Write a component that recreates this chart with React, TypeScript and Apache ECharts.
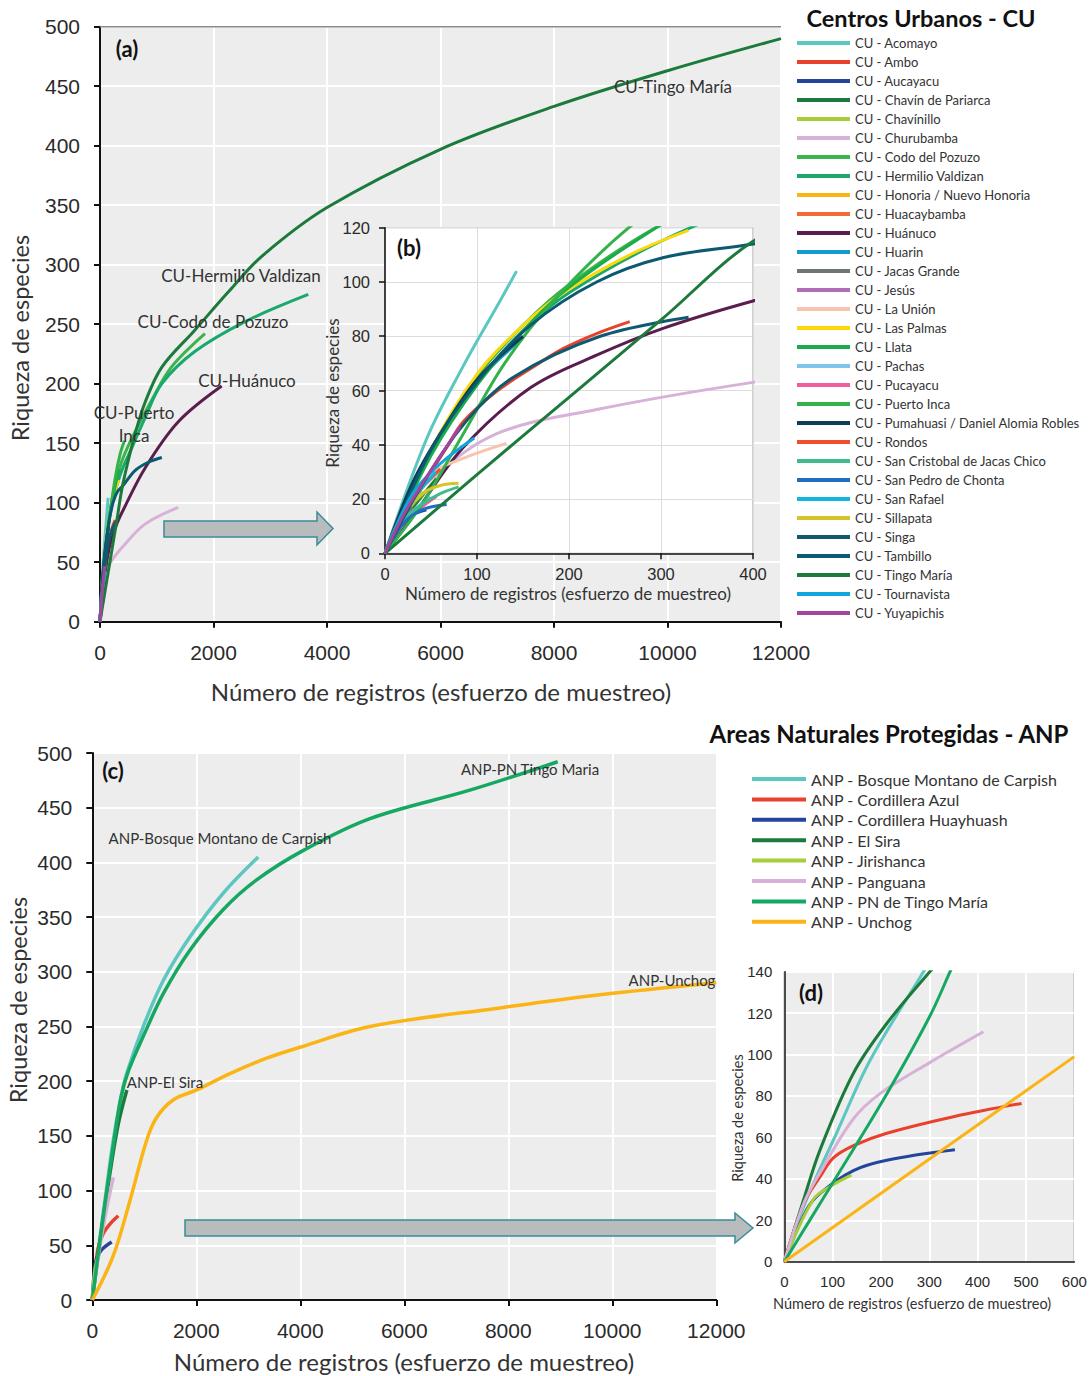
import React, { useEffect, useRef } from "react";
import * as echarts from "echarts";

// ---------- Centros Urbanos (CU) accumulation curves: [registros, especies] ----------
const cuAcomayo = [[0, 0], [45, 42], [85, 69], [125, 93], [143, 104]];
const cuAmbo = [[0, 0], [30, 19], [67, 39], [85, 48.5], [121, 59.6], [158, 68], [194, 75.5], [230, 81], [266, 85.4]];
const cuAucayacu = [[0, 0], [15, 9], [30, 14], [45, 16]];
const cuChavin = [[0, 0], [20, 12], [40, 21], [56, 27.6]];
const cuChavinillo = [[0, 0], [15, 10], [30, 18], [45, 23]];
const cuChurubamba = [[0, 0], [20, 15], [49, 27], [121, 44], [230, 53], [400, 63], [793, 82], [1380, 96]];
const cuCodo = [[0, 0], [50, 38], [100, 65], [150, 84], [200, 99], [294, 120], [400, 137], [620, 160], [910, 186], [1260, 214], [1850, 242]];
const cuHermilio = [[0, 0], [50, 37], [100, 63], [150, 82], [200, 96], [300, 115], [400, 129], [560, 146], [800, 172], [1090, 200], [1670, 227], [2550, 252], [3670, 275]];
const cuHonoria = [[0, 0], [15, 11], [30, 19], [40, 23]];
const cuHuacaybamba = [[0, 0], [20, 15], [40, 25], [53, 29.5]];
const cuHuanuco = [[0, 0], [31, 14], [85, 39], [158, 61], [230, 73], [303, 83], [400, 93], [793, 129], [1380, 168], [2144, 198]];
const cuHuarin = [[0, 0], [25, 20], [49, 36], [100, 63], [149, 79]];
const cuJacas = [[0, 0], [10, 7], [20, 13], [30, 17]];
const cuJesus = [[0, 0], [15, 11], [30, 20], [45, 27]];
const cuLaUnion = [[0, 0], [20, 15], [49, 29], [85, 35], [132, 40.5]];
const cuLasPalmas = [[0, 0], [50, 38], [100, 66], [150, 84], [194, 96], [266, 110], [330, 119]];
const cuLlata = [[0, 0], [50, 36], [100, 62], [150, 82], [200, 98], [290, 119], [340, 128]];
const cuPachas = [[0, 0], [20, 12], [35, 17], [49, 21]];
const cuPucayacu = [[0, 0], [20, 11], [40, 17], [56, 21]];
const cuPuertoInca = [[0, 0], [40, 18], [85, 44], [130, 70], [183, 93], [265, 120], [350, 140], [430, 152]];
const cuPumahuasi = [[0, 0], [30, 26], [60, 44], [100, 64], [150, 80]];
const cuRondos = [[0, 0], [20, 14], [40, 24], [60, 31]];
const cuSanCristobal = [[0, 0], [20, 12], [40, 18], [60, 22], [80, 24.5]];
const cuSanPedro = [[0, 0], [20, 11], [40, 16], [67, 18]];
const cuSanRafael = [[0, 0], [20, 14], [40, 24], [55, 30]];
const cuSillapata = [[0, 0], [20, 15], [40, 22], [60, 25], [80, 25.8]];
const cuSinga = [[0, 0], [40, 25], [89, 49], [140, 65], [234, 80], [330, 87]];
const cuTambillo = [[0, 0], [50, 38], [100, 63], [158, 84], [230, 100], [303, 109], [400, 114], [617, 127], [850, 134], [1090, 138]];
const cuTingoMaria = [[0, 0], [100, 29], [200, 57.5], [300, 86], [400, 115], [620, 158], [800, 185], [1090, 214], [1670, 245], [2260, 277], [2850, 307], [4000, 348], [6000, 397], [8000, 433], [10000, 463], [12000, 490]];
const cuTournavista = [[0, 0], [30, 22], [60, 33], [97, 42.5]];
const cuYuyapichis = [[0, 0], [20, 14], [45, 28], [81.6, 46.7]];

const cuNames = [
  "CU - Acomayo", "CU - Ambo", "CU - Aucayacu", "CU - Chavín de Pariarca", "CU - Chavínillo",
  "CU - Churubamba", "CU - Codo del Pozuzo", "CU - Hermilio Valdizan", "CU - Honoria / Nuevo Honoria",
  "CU - Huacaybamba", "CU - Huánuco", "CU - Huarin", "CU - Jacas Grande", "CU - Jesús", "CU - La Unión",
  "CU - Las Palmas", "CU - Llata", "CU - Pachas", "CU - Pucayacu", "CU - Puerto Inca",
  "CU - Pumahuasi / Daniel Alomia Robles", "CU - Rondos", "CU - San Cristobal de Jacas Chico",
  "CU - San Pedro de Chonta", "CU - San Rafael", "CU - Sillapata", "CU - Singa", "CU - Tambillo",
  "CU - Tingo María", "CU - Tournavista", "CU - Yuyapichis",
];
const cuColors = [
  "#5cc6c0", "#e8412c", "#24459c", "#1b7a3c", "#a6ce39", "#d7b1d8", "#3cb44b", "#19a96c", "#fbb415",
  "#f26a35", "#5a1e4e", "#119bd0", "#6f7476", "#b06cb5", "#f8c4ad", "#fcd80c", "#1aab4a", "#7dc6ea",
  "#ef5f9e", "#34b24a", "#0b3f55", "#f04e2a", "#3fbb8e", "#1f6fc0", "#14b4e0", "#d4c428", "#0f5a70",
  "#0b5a72", "#1b7a3c", "#10a6dc", "#a3459b",
];
const cuData = [
  cuAcomayo, cuAmbo, cuAucayacu, cuChavin, cuChavinillo, cuChurubamba, cuCodo, cuHermilio, cuHonoria,
  cuHuacaybamba, cuHuanuco, cuHuarin, cuJacas, cuJesus, cuLaUnion, cuLasPalmas, cuLlata, cuPachas,
  cuPucayacu, cuPuertoInca, cuPumahuasi, cuRondos, cuSanCristobal, cuSanPedro, cuSanRafael, cuSillapata,
  cuSinga, cuTambillo, cuTingoMaria, cuTournavista, cuYuyapichis,
];

// ---------- Áreas Naturales Protegidas (ANP), panel (c) ----------
const anpCarpish = [[0, 0], [150, 58], [280, 104], [400, 145], [550, 185], [661, 207], [981, 250], [1365, 292], [1879, 332], [2519, 372], [3192, 405]];
const anpAzul = [[0, 0], [60, 28], [115, 48], [212, 61], [350, 70], [500, 77]];
const anpHuayhuash = [[0, 0], [40, 26], [85, 38], [181, 46], [373, 53]];
const anpElSira = [[0, 0], [150, 55], [340, 116], [500, 161], [665, 192]];
const anpJirishanca = [[0, 0], [30, 18], [60, 30], [100, 38], [139, 42]];
const anpPanguana = [[0, 0], [115, 40], [244, 76], [404, 112]];
const anpPNTingo = [[0, 0], [150, 55], [280, 100], [400, 140], [550, 185], [700, 210], [980, 241], [1365, 280], [1880, 320], [2520, 357], [3160, 384], [4060, 411], [5340, 440], [7260, 466], [8950, 492]];
const anpUnchog = [[0, 0], [400, 40], [725, 91], [1046, 146], [1240, 167], [1560, 183], [2008, 192], [2648, 207], [3354, 221], [3994, 231], [5340, 250], [7840, 267], [9760, 279], [12000, 290]];

// ---------- ANP, inset panel (d) as drawn there ----------
const dCarpish = [[0, 0], [46, 30], [108, 62], [177, 97], [288, 140], [320, 152]];
const dAzul = [[0, 0], [40, 28], [74, 41], [101, 50], [143, 56], [212, 62], [350, 70], [491, 76.4]];
const dHuayhuash = [[0, 0], [46, 25], [74, 33], [143, 44], [212, 49], [353, 54]];
const dElSira = [[0, 0], [40, 30], [74, 54], [143, 91], [212, 115], [301, 140], [340, 150]];
const dJirishanca = [[0, 0], [60, 30], [100, 37], [139, 41.8]];
const dPanguana = [[0, 0], [40, 28], [74, 43], [143, 69], [200, 81.5], [300, 96], [412, 111]];
const dPNTingo = [[0, 0], [50, 19], [108, 41], [212, 81], [300, 118], [343, 140], [360, 149]];
const dUnchog = [[0, 0], [600, 99]];

const anpNames = [
  "ANP - Bosque Montano de Carpish", "ANP - Cordillera Azul", "ANP - Cordillera Huayhuash", "ANP - El Sira",
  "ANP - Jirishanca", "ANP - Panguana", "ANP - PN de Tingo María", "ANP - Unchog",
];
const anpColors = ["#5cc6c0", "#e8412c", "#24459c", "#1b7a3c", "#a6ce39", "#d7b1d8", "#16a862", "#fbb415"];
const anpData = [anpCarpish, anpAzul, anpHuayhuash, anpElSira, anpJirishanca, anpPanguana, anpPNTingo, anpUnchog];
const anpInsetData = [dCarpish, dAzul, dHuayhuash, dElSira, dJirishanca, dPanguana, dPNTingo, dUnchog];

// ---------- axis ticks ----------
const bigX = { min: 0, max: 12000, interval: 2000 };
const bigY = { min: 0, max: 500, interval: 50 };
const insetBX = { min: 0, max: 400, interval: 100 };
const insetBY = { min: 0, max: 120, interval: 20 };
const insetDX = { min: 0, max: 600, interval: 100 };
const insetDY = { min: 0, max: 140, interval: 20 };

const NUM_FONT = "'Liberation Sans', Arial, sans-serif";
const TXT_FONT = "Lato, 'Noto Sans', sans-serif";
const BG = "#ecedec";

function axis(grid: number, range: any, o: any) {
  return {
    type: "value",
    gridIndex: grid,
    ...range,
    z: o.z ?? 0,
    axisLine: { show: true, lineStyle: { color: "#111", width: o.lw ?? 2 } },
    axisTick: { show: o.tick ?? true, length: 6, lineStyle: { color: "#111", width: o.lw ?? 2 } },
    axisLabel: {
      fontSize: o.fs, color: "#2a2a2a", margin: o.margin, fontFamily: NUM_FONT,
      formatter: (v: number) => String(v),
    },
    splitLine: { show: true, lineStyle: { color: o.split ?? "#ffffff", width: o.sw ?? 2 } },
  };
}

function txt(text: string, x: number, y: number, size: number, opts: any = {}) {
  return {
    type: "text",
    x,
    y,
    rotation: opts.rot ?? 0,
    z: 100,
    style: {
      text,
      fontSize: size,
      fontFamily: opts.font ?? TXT_FONT,
      fontWeight: opts.bold ? "bold" : "normal",
      fill: opts.color ?? "#333",
      align: "center",
      verticalAlign: "middle",
    },
  };
}

export default function App() {
  const ref = useRef<HTMLDivElement>(null);
  useEffect(() => {
    const chart = echarts.init(ref.current!, null, { renderer: "svg" });
    const series: any[] = [];
    cuNames.forEach((name, i) => {
      const base = { type: "line", name, symbol: "none", smooth: 0.35, color: cuColors[i], data: cuData[i] };
      series.push({ ...base, xAxisIndex: 0, yAxisIndex: 0, z: 2, lineStyle: { width: 3, color: cuColors[i] } });
      series.push({ ...base, xAxisIndex: 1, yAxisIndex: 1, z: 5, lineStyle: { width: 3, color: cuColors[i] } });
    });
    anpNames.forEach((name, i) => {
      const base = { type: "line", name, symbol: "none", smooth: 0.35, color: anpColors[i] };
      series.push({ ...base, data: anpData[i], xAxisIndex: 2, yAxisIndex: 2, z: 2, lineStyle: { width: 3.5, color: anpColors[i] } });
      series.push({ ...base, data: anpInsetData[i], xAxisIndex: 3, yAxisIndex: 3, z: 2, lineStyle: { width: 3, color: anpColors[i] } });
    });

    const option: any = {
      animation: false,
      backgroundColor: "#ffffff",
      grid: [
        { left: 100, top: 26.7, width: 681, height: 595, show: true, backgroundColor: BG, borderWidth: 0 },
        { left: 385, top: 227.7, width: 368, height: 325.6, show: true, backgroundColor: "#ffffff", borderColor: "#a0a0a0", borderWidth: 1, z: 3 },
        { left: 92.3, top: 753, width: 624, height: 547, show: true, backgroundColor: BG, borderWidth: 0 },
        { left: 784.3, top: 971.7, width: 290, height: 290, show: true, backgroundColor: BG, borderColor: "#555", borderWidth: 1 },
      ],
      xAxis: [
        axis(0, bigX, { fs: 21, margin: 20 }),
        axis(1, insetBX, { fs: 16.5, margin: 12, split: "#dcdcdc", sw: 1, lw: 1.5, z: 3 }),
        axis(2, bigX, { fs: 21, margin: 20 }),
        axis(3, insetDX, { fs: 15, margin: 12, lw: 1.5, tick: false }),
      ],
      yAxis: [
        axis(0, bigY, { fs: 21, margin: 20 }),
        axis(1, insetBY, { fs: 16.5, margin: 15, split: "#dcdcdc", sw: 1, lw: 1.5, z: 3 }),
        axis(2, bigY, { fs: 21, margin: 20 }),
        axis(3, insetDY, { fs: 15, margin: 12, lw: 1.5, tick: false }),
      ],
      legend: [
        {
          data: cuNames, left: 797, top: 36, orient: "vertical", icon: "rect", itemWidth: 53, itemHeight: 4,
          itemGap: 5, padding: 0, selectedMode: false,
          textStyle: { fontSize: 13, lineHeight: 14, color: "#333", fontFamily: TXT_FONT },
        },
        {
          data: anpNames, left: 752, top: 770, orient: "vertical", icon: "rect", itemWidth: 54, itemHeight: 4,
          itemGap: 2.4, padding: 0, selectedMode: false,
          textStyle: { fontSize: 16, lineHeight: 18, color: "#333", fontFamily: TXT_FONT },
        },
      ],
      graphic: [
        { type: "line", z: 1, shape: { x1: 100, y1: 26.7, x2: 781, y2: 26.7 }, style: { stroke: "#8a8a8a", lineWidth: 1.5 } },
        {
          type: "polygon", z: 50,
          shape: { points: [[164, 521], [317, 521], [317, 512], [333, 528.5], [317, 545], [317, 537], [164, 537]] },
          style: { fill: "#b8bcbd", stroke: "#3b8b9b", lineWidth: 1.5 },
        },
        {
          type: "polygon", z: 50,
          shape: { points: [[185, 1220], [735, 1220], [735, 1213], [753, 1228], [735, 1243], [735, 1236], [185, 1236]] },
          style: { fill: "#b8bcbd", stroke: "#3b8b9b", lineWidth: 1.5 },
        },
        txt("Centros Urbanos - CU", 921, 18, 23.5, { bold: true, color: "#111" }),
        txt("Areas Naturales Protegidas - ANP", 889, 733, 24, { bold: true, color: "#111" }),
        txt("(a)", 127, 48, 22, { bold: true, color: "#111" }),
        txt("(b)", 409, 247, 22, { bold: true, color: "#111" }),
        txt("(c)", 113, 770, 22, { bold: true, color: "#111" }),
        txt("(d)", 811, 992, 22, { bold: true, color: "#111" }),
        txt("Riqueza de especies", 20, 338, 23.5, { rot: Math.PI / 2 }),
        txt("Número de registros (esfuerzo de muestreo)", 441, 691, 24),
        txt("Riqueza de especies", 332, 393, 17, { rot: Math.PI / 2 }),
        txt("Número de registros (esfuerzo de muestreo)", 568, 593, 17),
        txt("Riqueza de especies", 18, 1000, 23.5, { rot: Math.PI / 2 }),
        txt("Número de registros (esfuerzo de muestreo)", 404, 1361, 24),
        txt("Riqueza de especies", 737, 1118, 14.5, { rot: Math.PI / 2 }),
        txt("Número de registros (esfuerzo de muestreo)", 912, 1303, 14.5),
        txt("CU-Tingo María", 673, 86, 17),
        txt("CU-Hermilio Valdizan", 241, 275, 17),
        txt("CU-Codo de Pozuzo", 213, 321, 17),
        txt("CU-Huánuco", 247, 380, 17),
        txt("CU-Puerto", 134, 412, 17),
        txt("Inca", 134, 435, 17),
        txt("ANP-PN Tingo Maria", 530, 769, 15),
        txt("ANP-Bosque Montano de Carpish", 220, 838, 15),
        txt("ANP-Unchog", 672, 980, 15),
        txt("ANP-El Sira", 165, 1082, 15),
      ],
      series,
    };
    chart.setOption(option);
    return () => chart.dispose();
  }, []);
  return (
    <div
      ref={ref}
      style={{ position: "absolute", left: 0, top: 0, width: 1091, height: 1376, background: "#fff" }}
    />
  );
}
